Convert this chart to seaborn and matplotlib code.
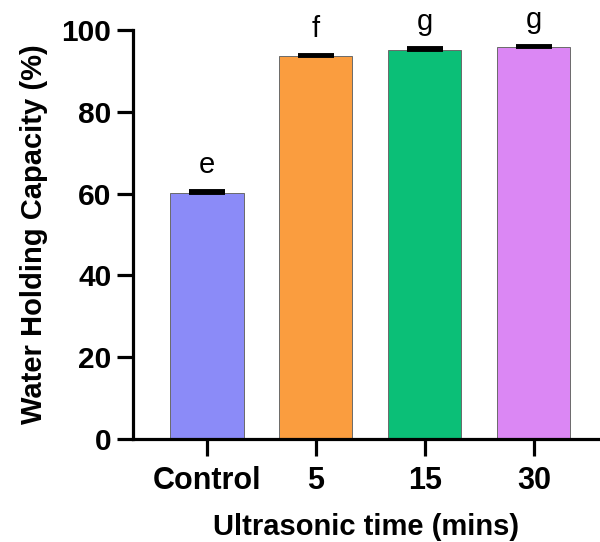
import matplotlib
matplotlib.use("Agg")
import matplotlib.pyplot as plt
import seaborn as sns
import pandas as pd
import numpy as np

# Water holding capacity by ultrasonic treatment time
categories = ["Control", "5", "15", "30"]
whc_mean = [60.2, 93.6, 95.1, 95.8]
whc_sd = [0.4, 0.4, 0.4, 0.4]
letters = ["e", "f", "g", "g"]
colors = ["#8B8BF8", "#FA9D3F", "#0BBF77", "#DB87F4"]

sns.set_theme(style="ticks")
plt.rcParams["font.family"] = ["Liberation Sans", "DejaVu Sans"]
plt.rcParams["text.color"] = "black"
plt.rcParams["axes.labelcolor"] = "black"
plt.rcParams["xtick.color"] = "black"
plt.rcParams["ytick.color"] = "black"

df = pd.DataFrame({"time": categories, "whc": whc_mean})

fig = plt.figure(figsize=(6.0, 5.42), dpi=100)
ax = fig.add_axes([133 / 600, 1 - 439 / 542, 1 - 133 / 600, (439 - 30) / 542])

sns.barplot(data=df, x="time", y="whc", hue="time", order=categories,
            hue_order=categories, palette=colors, width=0.67, legend=False,
            edgecolor="#6a6a6a", linewidth=0.7, saturation=1, errorbar=None, ax=ax)

# one-sided (upper) error caps
xpos = np.arange(len(categories))
ax.errorbar(xpos, whc_mean, yerr=[np.zeros(len(whc_sd)), whc_sd], fmt="none",
            ecolor="black", elinewidth=2.2, capsize=13, capthick=2.8, zorder=5)

# significance letters
for x, m, s, lab in zip(xpos, whc_mean, whc_sd, letters):
    ax.text(x, m + s + 4.4, lab, ha="center", va="baseline", fontsize=21,
            color="black")

ax.set_ylim(0, 100)
ax.set_xlim(-0.679, 3.606)
ax.set_yticks([0, 20, 40, 60, 80, 100])

for side in ["top", "right"]:
    ax.spines[side].set_visible(False)
for side in ["left", "bottom"]:
    ax.spines[side].set_linewidth(2.3)
    ax.spines[side].set_color("black")
    ax.spines[side].set_capstyle("projecting")

ax.tick_params(axis="y", length=11.5, width=2.3, pad=4, labelsize=21.5, colors="black")
ax.tick_params(axis="x", length=12.5, width=2.3, pad=7, labelsize=22, colors="black")
for lab in ax.get_xticklabels() + ax.get_yticklabels():
    lab.set_fontweight("bold")

ax.set_xlabel("Ultrasonic time (mins)", fontsize=21, fontweight="bold", labelpad=12)
ax.set_ylabel("Water Holding Capacity (%)", fontsize=21, fontweight="bold", labelpad=10)

fig.savefig("out.png", dpi=100)
